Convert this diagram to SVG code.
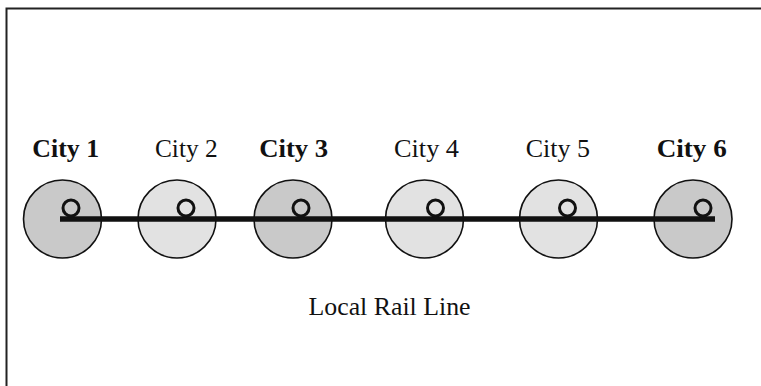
<svg xmlns="http://www.w3.org/2000/svg" width="761" height="386" viewBox="0 0 761 386">
<style>
.lbl{font-family:"Liberation Serif","Times New Roman",Times,serif;font-size:25px;fill:#111;text-anchor:middle}
.b{font-weight:bold}
.city{stroke:#111;stroke-width:1.6}
.dark{fill:#c9c9c9}
.light{fill:#e2e2e2}
.loop{fill:none;stroke:#111;stroke-width:3}
</style>
<rect x="0" y="0" width="761" height="386" fill="#fff"/>
<path d="M6.5,386 V8.5 H761" fill="none" stroke="#222" stroke-width="2"/>
<g id="city1"><circle class="city dark" cx="62.5" cy="219" r="39"/><text class="lbl b" x="65.7" y="157.3" textLength="66.7" lengthAdjust="spacingAndGlyphs">City 1</text></g>
<g id="city2"><circle class="city light" cx="177" cy="219" r="39"/><text class="lbl" x="186.3" y="157.3" textLength="62.7" lengthAdjust="spacingAndGlyphs">City 2</text></g>
<g id="city3"><circle class="city dark" cx="293" cy="219" r="39"/><text class="lbl b" x="293.7" y="157.3" textLength="69" lengthAdjust="spacingAndGlyphs">City 3</text></g>
<g id="city4"><circle class="city light" cx="424.5" cy="219" r="39"/><text class="lbl" x="426.5" y="157.3" textLength="65" lengthAdjust="spacingAndGlyphs">City 4</text></g>
<g id="city5"><circle class="city light" cx="558.5" cy="219" r="39"/><text class="lbl" x="557.8" y="157.3" textLength="64.3" lengthAdjust="spacingAndGlyphs">City 5</text></g>
<g id="city6"><circle class="city dark" cx="693" cy="219" r="39"/><text class="lbl b" x="691.7" y="157.3" textLength="70" lengthAdjust="spacingAndGlyphs">City 6</text></g>
<g id="connectors">
<line x1="60" y1="219" x2="715" y2="219" stroke="#111" stroke-width="5.5"/>
<circle class="loop" cx="71" cy="208" r="8"/>
<circle class="loop" cx="186" cy="208" r="8"/>
<circle class="loop" cx="301" cy="208" r="8"/>
<circle class="loop" cx="435.5" cy="208" r="8"/>
<circle class="loop" cx="567.5" cy="208" r="8"/>
<circle class="loop" cx="703" cy="208" r="8"/>
</g>
<text class="lbl" x="389.5" y="314.5" textLength="162" lengthAdjust="spacingAndGlyphs">Local Rail Line</text>
</svg>
